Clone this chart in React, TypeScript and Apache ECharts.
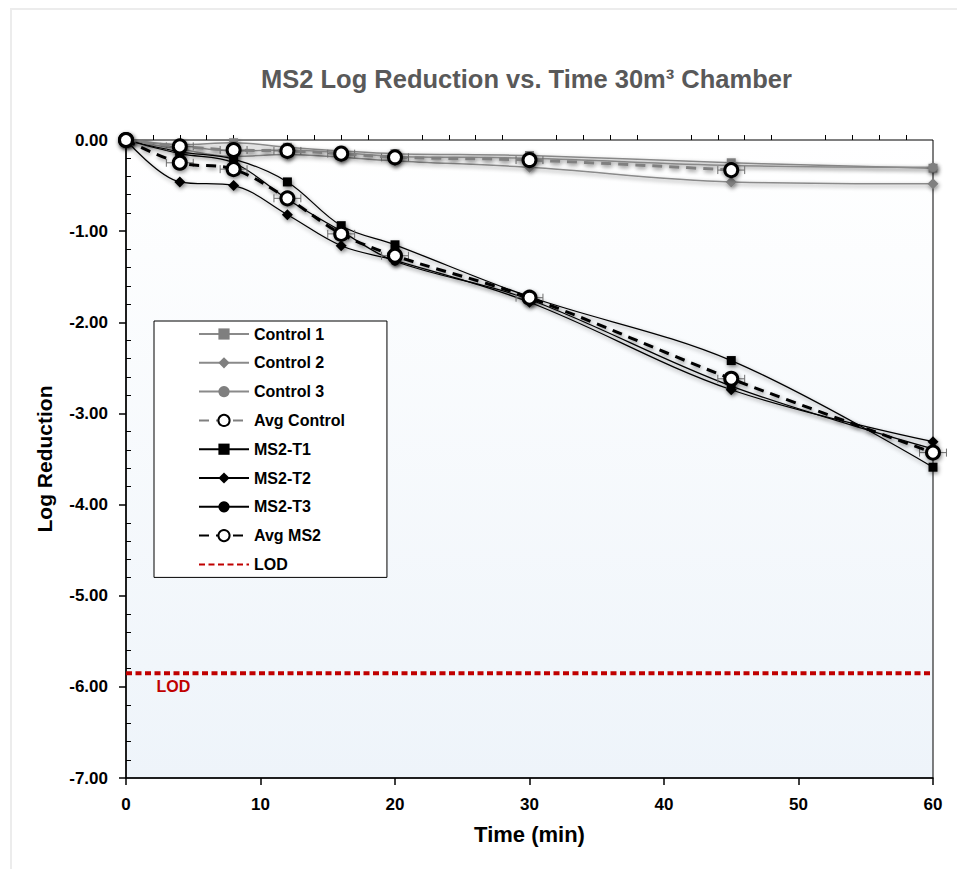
import React, { useEffect, useRef } from 'react';
import * as echarts from 'echarts';

// ---- Data ----
const timeMin = [0, 4, 8, 12, 16, 20, 30, 45, 60];
const timeAvgControl = [0, 4, 8, 12, 16, 20, 30, 45];

const control1 = [0, -0.05, -0.03, -0.08, -0.12, -0.15, -0.17, -0.25, -0.31];
const control2 = [0, -0.1, -0.18, -0.16, -0.19, -0.23, -0.3, -0.46, -0.48];
const control3 = [0, -0.06, -0.12, -0.11, -0.14, -0.18, -0.2, -0.28, -0.3];
const avgControl = [0, -0.07, -0.11, -0.12, -0.15, -0.19, -0.22, -0.33];
const avgControlErrX = [0, 1, 1, 1, 1, 1, 1, 1];

const ms2T1 = [0, -0.13, -0.21, -0.46, -0.94, -1.15, -1.72, -2.42, -3.59];
const ms2T2 = [0, -0.46, -0.5, -0.82, -1.16, -1.32, -1.78, -2.74, -3.31];
const ms2T3 = [0, -0.15, -0.25, -0.65, -1.0, -1.33, -1.75, -2.7, -3.39];
const avgMs2 = [0, -0.25, -0.32, -0.64, -1.03, -1.27, -1.73, -2.62, -3.43];
const avgMs2ErrX = [0, 1, 1, 1, 1, 1, 1, 1, 1];

const lodValue = -5.85;
const lodX = [0, 60];

const legendNames = [
  'Control 1',
  'Control 2',
  'Control 3',
  'Avg Control',
  'MS2-T1',
  'MS2-T2',
  'MS2-T3',
  'Avg MS2',
  'LOD',
];

const FONT = 'Liberation Sans, Arial, sans-serif';

const pairs = (xs: number[], ys: number[]) => xs.map((x, i) => [x, ys[i]]);
const triples = (xs: number[], ys: number[], es: number[]) =>
  xs.map((x, i) => [x, ys[i], es[i]]);

const shadow = {
  shadowBlur: 4,
  shadowColor: 'rgba(0,0,0,0.45)',
  shadowOffsetX: 1,
  shadowOffsetY: 2,
};

export default function App() {
  const ref = useRef<HTMLDivElement>(null);

  useEffect(() => {
    if (!ref.current) return;
    const chart = echarts.init(ref.current, null, { renderer: 'svg' });

    const gray = '#7f7f7f';

    const controlSeries = (name: string, data: number[], symbol: string, size: number) => ({
      name,
      type: 'line',
      data: pairs(timeMin, data),
      smooth: 0.35,
      symbol,
      symbolSize: size,
      z: 2,
      lineStyle: { color: '#8a8a8a', width: 1.5, ...shadow },
      itemStyle: { color: gray, borderWidth: 0, ...shadow },
    });

    const ms2Series = (name: string, data: number[], symbol: string, size: number) => ({
      name,
      type: 'line',
      data: pairs(timeMin, data),
      smooth: 0.35,
      symbol,
      symbolSize: size,
      z: 3,
      lineStyle: { color: '#000', width: 1.25, ...shadow },
      itemStyle: { color: '#000', borderWidth: 0, ...shadow },
    });

    const errSeries = (data: number[][], z: number) => ({
      type: 'custom',
      silent: true,
      z,
      data,
      encode: { x: 0, y: 1 },
      renderItem: (params: any, api: any) => {
        const x = api.value(0);
        const y = api.value(1);
        const e = api.value(2);
        if (!e) return null;
        const p1 = api.coord([x - e, y]);
        const p2 = api.coord([x + e, y]);
        const st = { stroke: '#6e6e6e', lineWidth: 1 };
        return {
          type: 'group',
          children: [
            { type: 'line', shape: { x1: p1[0], y1: p1[1], x2: p2[0], y2: p2[1] }, style: st },
            { type: 'line', shape: { x1: p1[0], y1: p1[1] - 4, x2: p1[0], y2: p1[1] + 4 }, style: st },
            { type: 'line', shape: { x1: p2[0], y1: p2[1] - 4, x2: p2[0], y2: p2[1] + 4 }, style: st },
          ],
        };
      },
    });

    const avgSeries = (name: string, xs: number[], data: number[], lineColor: string, z: number) => ({
      name,
      type: 'line',
      data: pairs(xs, data),
      smooth: 0.35,
      symbol: 'circle',
      symbolSize: 13,
      z,
      lineStyle: { color: lineColor, width: 3, type: [10, 7], ...shadow },
      itemStyle: { color: '#fff', borderColor: '#000', borderWidth: 3, ...shadow },
    });

    const option: any = {
      animation: false,
      backgroundColor: 'transparent',
      textStyle: { fontFamily: FONT },
      title: {
        text: 'MS2 Log Reduction vs. Time 30m³ Chamber',
        left: 256,
        top: 61,
        textStyle: { fontFamily: FONT, fontSize: 25.5, fontWeight: 'bold', color: '#595959' },
      },
      grid: {
        left: 126,
        right: 24,
        top: 140,
        bottom: 91,
        show: true,
        borderColor: '#000',
        borderWidth: 1,
        backgroundColor: {
          type: 'linear',
          x: 0,
          y: 0,
          x2: 0,
          y2: 1,
          colorStops: [
            { offset: 0, color: '#ffffff' },
            { offset: 1, color: '#eef4fa' },
          ],
        },
      },
      legend: {
        data: legendNames,
        orient: 'vertical',
        left: 154,
        top: 321,
        itemWidth: 50,
        itemHeight: 14,
        itemGap: 12.8,
        itemTextGap: 6,
        padding: [5, 42, 5, 44],
        backgroundColor: '#fff',
        borderColor: '#000',
        borderWidth: 1,
        textStyle: {
          fontFamily: FONT,
          fontSize: 16,
          fontWeight: 'bold',
          color: '#000',
        },
        lineStyle: { shadowBlur: 0, shadowOffsetX: 0, shadowOffsetY: 0, shadowColor: 'transparent' },
        itemStyle: { shadowBlur: 0, shadowOffsetX: 0, shadowOffsetY: 0, shadowColor: 'transparent' },
      },
      xAxis: [
        {
          type: 'value',
          min: 0,
          max: 60,
          interval: 10,
          name: 'Time (min)',
          nameLocation: 'middle',
          nameGap: 45,
          nameTextStyle: { fontFamily: FONT, fontSize: 22, fontWeight: 'bold', color: '#000' },
          axisLine: { show: true, onZero: false, lineStyle: { color: '#000', width: 1.5 } },
          axisTick: { show: true, length: 7, lineStyle: { color: '#000', width: 1.5 } },
          axisLabel: {
            fontFamily: FONT,
            fontSize: 17,
            fontWeight: 'bold',
            color: '#000',
            margin: 18,
          },
          splitLine: { show: false },
        },
        {
          type: 'value',
          position: 'bottom',
          min: 0,
          max: 60,
          interval: 10,
          axisLine: { show: false },
          axisLabel: { show: false },
          axisTick: { show: false, inside: true },
          minorTick: { show: true, splitNumber: 5, length: 5, lineStyle: { color: '#000', width: 1 } },
          splitLine: { show: false },
        },
      ],
      yAxis: [
        {
          type: 'value',
          min: -7,
          max: 0,
          interval: 1,
          name: 'Log Reduction',
          nameLocation: 'middle',
          nameRotate: 90,
          nameGap: 71,
          nameTextStyle: { fontFamily: FONT, fontSize: 21, fontWeight: 'bold', color: '#000' },
          axisLine: { show: true, onZero: false, lineStyle: { color: '#000', width: 1.5 } },
          axisTick: { show: true, length: 7, lineStyle: { color: '#000', width: 1.5 } },
          axisLabel: {
            fontFamily: FONT,
            fontSize: 17,
            fontWeight: 'bold',
            color: '#000',
            margin: 18,
            formatter: (v: number) => v.toFixed(2),
          },
          splitLine: { show: false },
        },
        {
          type: 'value',
          position: 'left',
          min: -7,
          max: 0,
          interval: 1,
          axisLine: { show: false },
          axisLabel: { show: false },
          axisTick: { show: false, inside: true },
          minorTick: { show: true, splitNumber: 5, length: 5, lineStyle: { color: '#000', width: 1 } },
          splitLine: { show: false },
        },
      ],
      series: [
        controlSeries('Control 1', control1, 'rect', 9),
        controlSeries('Control 2', control2, 'diamond', 11),
        controlSeries('Control 3', control3, 'circle', 9),
        errSeries(triples(timeAvgControl, avgControl, avgControlErrX), 4),
        avgSeries('Avg Control', timeAvgControl, avgControl, '#808080', 5),
        ms2Series('MS2-T1', ms2T1, 'rect', 9),
        ms2Series('MS2-T2', ms2T2, 'diamond', 11),
        ms2Series('MS2-T3', ms2T3, 'circle', 9),
        errSeries(triples(timeMin, avgMs2, avgMs2ErrX), 6),
        avgSeries('Avg MS2', timeMin, avgMs2, '#000', 7),
        {
          name: 'LOD',
          type: 'line',
          data: lodX.map((x) => [x, lodValue]),
          symbol: 'none',
          showSymbol: false,
          z: 8,
          lineStyle: { color: '#c00000', width: 4, type: [6, 3.5] },
          itemStyle: { color: '#c00000', opacity: 0 },
          markPoint: {
            symbol: 'rect',
            symbolSize: 1,
            silent: true,
            itemStyle: { color: 'transparent', opacity: 1 },
            data: [
              {
                coord: [0, lodValue],
                label: {
                  show: true,
                  formatter: 'LOD',
                  position: [31, 6],
                  fontFamily: FONT,
                  fontSize: 16,
                  fontWeight: 'bold',
                  color: '#c00000',
                },
              },
            ],
          },
        },
      ],
    };

    chart.setOption(option);
    return () => chart.dispose();
  }, []);

  return (
    <div style={{ position: 'fixed', left: 0, top: 0, width: 957, height: 869, background: '#fff', overflow: 'hidden' }}>
      <div
        style={{
          position: 'absolute',
          left: 10,
          top: 8,
          width: 1000,
          height: 1000,
          borderLeft: '2px solid #ececec',
          borderTop: '2px solid #ececec',
        }}
      />
      <div ref={ref} style={{ position: 'absolute', left: 0, top: 0, width: 957, height: 869 }} />
    </div>
  );
}
